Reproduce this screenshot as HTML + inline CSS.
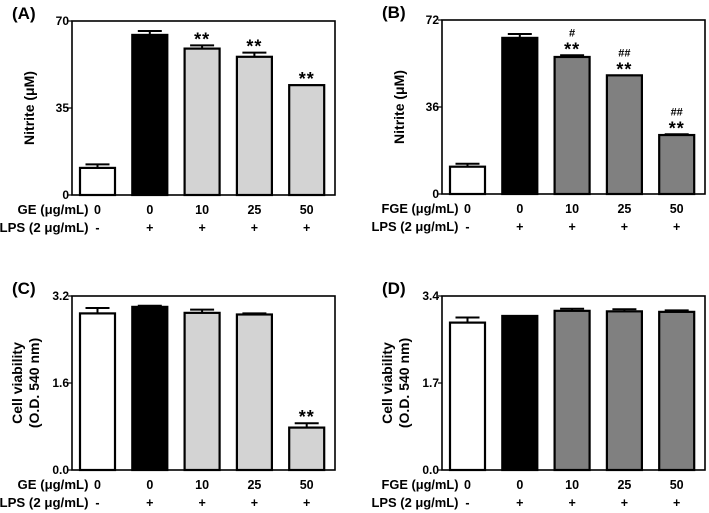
<!DOCTYPE html>
<html><head><meta charset="utf-8"><style>
body{margin:0;background:#fff;}
svg{display:block;font-family:"Liberation Sans",Arial,sans-serif;font-weight:bold;}
</style></head><body>
<svg id="fig" width="709" height="513" viewBox="0 0 709 513" xmlns="http://www.w3.org/2000/svg"></svg>
<script>
const categories = ["0","0","10","25","50"];
const lpsLabels = ["-","+","+","+","+"];
const valuesA = [10.9, 64.4, 58.9, 55.6, 44.2];
const errorsA = [1.4, 1.6, 1.3, 1.7, 0];
const starsA = ["", "", "**", "**", "**"];
const hashA = ["", "", "", "", ""];
const valuesB = [11.3, 64.6, 56.7, 49.1, 24.4];
const errorsB = [1.2, 1.6, 0.7, 0, 0.3];
const starsB = ["", "", "**", "**", "**"];
const hashB = ["", "", "#", "##", "##"];
const valuesC = [2.88, 3.0, 2.89, 2.86, 0.78];
const errorsC = [0.10, 0.02, 0.06, 0.02, 0.08];
const starsC = ["", "", "", "", "**"];
const valuesD = [2.88, 3.01, 3.11, 3.10, 3.09];
const errorsD = [0.10, 0, 0.04, 0.04, 0.03];
const ticksA = [0, 35, 70];
const ticksB = [0, 36, 72];
const ticksC = [0.0, 1.6, 3.2];
const ticksD = [0.0, 1.7, 3.4];

const NS = "http://www.w3.org/2000/svg";
const svg = document.getElementById("fig");
function mk(tag, attrs, parent){const e=document.createElementNS(NS,tag);for(const k in attrs)e.setAttribute(k,attrs[k]);(parent||svg).appendChild(e);return e;}

function panel(o){
  const g = mk("g",{});
  
  
  const x0=o.x, yb=o.y+174, yt=o.y;
  const ymax=o.ticks[o.ticks.length-1];
  const yS=v=>yb-(v/ymax)*174;
  const step=52.3, bw=35, first=x0+8;
  const xS=i=>first+i*step;
  const fills=["#ffffff","#000000",o.gray,o.gray,o.gray];
  o.values.forEach((v,i)=>{
    const err=o.errors[i], cx=xS(i)+bw/2;
    if(err>0){
      const l=mk("line",{x1:cx,x2:cx,y1:yS(v),y2:yS(v+err),stroke:"#000","stroke-width":2},g);
      
      
      const c=mk("line",{x1:cx-12,x2:cx+12,y1:yS(v+err),y2:yS(v+err),stroke:"#000","stroke-width":2},g);
      
      
    }
    const r=mk("rect",{x:xS(i),y:yS(v),width:bw,height:yb-yS(v),fill:fills[i],stroke:"#000","stroke-width":2.2},g);
    
    
    const top=yS(v+err);
    if(o.stars[i]){
      const t=mk("text",{x:cx,y:top,"text-anchor":"middle","font-size":18,"letter-spacing":1},g);t.textContent=o.stars[i];
      
      
    }
    if(o.hash && o.hash[i]){
      const t=mk("text",{x:cx,y:top-19,"text-anchor":"middle","font-size":11},g);t.textContent=o.hash[i];
      
      
    }
    const c1=mk("text",{x:cx,y:yb+19,"text-anchor":"middle","font-size":12.5},g);c1.textContent=categories[i];
    
    
    const c2=mk("text",{x:cx,y:yb+37,"text-anchor":"middle","font-size":12.5},g);c2.textContent=lpsLabels[i];
    
    
  });
  const box=mk("rect",{x:x0,y:yt,width:263,height:174,fill:"none",stroke:"#000","stroke-width":1.6},g);
  
  
  o.ticks.forEach(t=>{
    mk("line",{x1:x0-4,x2:x0,y1:yS(t),y2:yS(t),stroke:"#000","stroke-width":1.2},g);
    const tx=mk("text",{x:x0-3,y:yS(t)+4,"text-anchor":"end","font-size":12},g);
    tx.textContent=o.fmt?t.toFixed(1):String(t);
    
    
  });
  const pl=mk("text",{x:o.x-60,y:o.y-2,"font-size":17},g);pl.textContent=o.label;
  
  
  const cy=yt+87;
  o.ytitle.forEach((line,k)=>{
    const xx=o.x-o.tOff+k*17;
    const t=mk("text",{x:xx,y:cy,"text-anchor":"middle","font-size":14,transform:`rotate(-90 ${xx} ${cy})`},g);
    t.textContent=line;
    
    
  });
  const endX=xS(0)+bw/2-9;
  const r1=mk("text",{x:endX-o.w1,y:yb+19,"font-size":12.5,textLength:o.w1,lengthAdjust:"spacingAndGlyphs"},g);r1.textContent=o.agent+" (μg/mL)";
  
  
  const r2=mk("text",{x:endX-o.w2,y:yb+37,"font-size":12.5,textLength:o.w2,lengthAdjust:"spacingAndGlyphs"},g);r2.textContent="LPS (2 μg/mL)";
  
  
}
panel({name:"panel-a",x:72,y:21,values:valuesA,errors:errorsA,stars:starsA,hash:hashA,ticks:ticksA,gray:"#d3d3d3",label:"(A)",ytitle:["Nitrite (μM)"],tOff:38,agent:"GE",w1:71,w2:89});
panel({name:"panel-b",x:442,y:20,values:valuesB,errors:errorsB,stars:starsB,hash:hashB,ticks:ticksB,gray:"#808080",label:"(B)",ytitle:["Nitrite (μM)"],tOff:38,agent:"FGE",w1:77,w2:87});
panel({name:"panel-c",x:72,y:296,values:valuesC,errors:errorsC,stars:starsC,ticks:ticksC,fmt:true,gray:"#d3d3d3",label:"(C)",ytitle:["Cell viability","(O.D. 540 nm)"],tOff:50,agent:"GE",w1:71,w2:89});
panel({name:"panel-d",x:442,y:296,values:valuesD,errors:errorsD,stars:["","","","",""],ticks:ticksD,fmt:true,gray:"#808080",label:"(D)",ytitle:["Cell viability","(O.D. 540 nm)"],tOff:50,agent:"FGE",w1:77,w2:87});
</script>
</body></html>
